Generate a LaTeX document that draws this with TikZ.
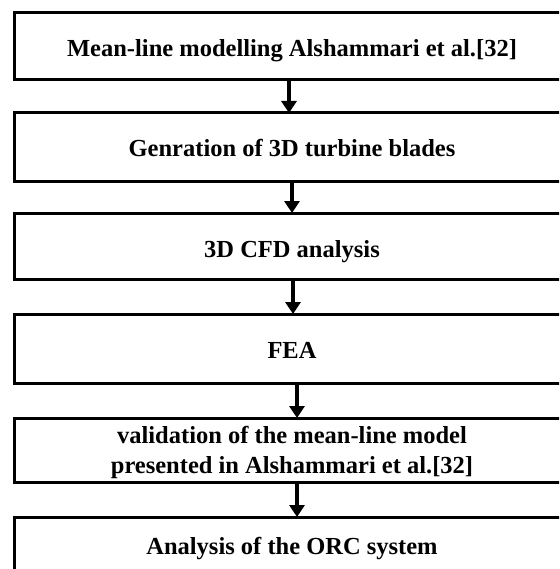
\documentclass[tikz,border=0pt]{standalone}
\usepackage{fontspec}
\setmainfont{Liberation Serif}
\usetikzlibrary{arrows.meta}
\begin{document}
\begin{tikzpicture}[x=1pt,y=-1pt,
  box/.style={draw, line width=3pt, minimum width=556pt, inner sep=0pt, outer sep=0pt, anchor=north west},
  lbl/.style={font=\fontsize{24.5}{29.5}\selectfont\bfseries, anchor=base, inner sep=0pt},
  arr/.style={line width=3.5pt, -{Triangle[width=15pt,length=12pt]}}]
\useasboundingbox (0,0) rectangle (559,569);
\clip (0,0) rectangle (559,569);
\node[box, minimum height=67pt] (b1) at (14,13) {};
\node[box, minimum height=69pt] (b2) at (14,113) {};
\node[box, minimum height=66pt] (b3) at (14,213) {};
\node[box, minimum height=69pt] (b4) at (14,314) {};
\node[box, minimum height=64pt] (b5) at (14,418) {};
\node[box, minimum height=67pt] (b6) at (14,517) {};
\node[lbl] (t1) at (292,57) {Mean-line modelling Alshammari et al.[32]};
\node[lbl] (t2) at (292,157) {Genration of 3D turbine blades};
\node[lbl] (t3) at (292,257) {3D CFD analysis};
\node[lbl] (t4) at (292,358) {FEA};
\node[lbl] (t5a) at (292,443) {validation of the mean-line model};
\node[lbl] (t5b) at (292,473) {presented in Alshammari et al.[32]};
\node[lbl] (t6) at (292,554) {Analysis of the ORC system};
\coordinate (x1) at (289,0);
\coordinate (x2) at (292,0);
\coordinate (x3) at (293,0);
\coordinate (x4) at (297,0);
\coordinate (x5) at (297,0);
\draw[arr] (b1.south -| x1) -- (b2.north -| x1);
\draw[arr] (b2.south -| x2) -- (b3.north -| x2);
\draw[arr] (b3.south -| x3) -- (b4.north -| x3);
\draw[arr] (b4.south -| x4) -- (b5.north -| x4);
\draw[arr] (b5.south -| x5) -- (b6.north -| x5);
\end{tikzpicture}
\end{document}
